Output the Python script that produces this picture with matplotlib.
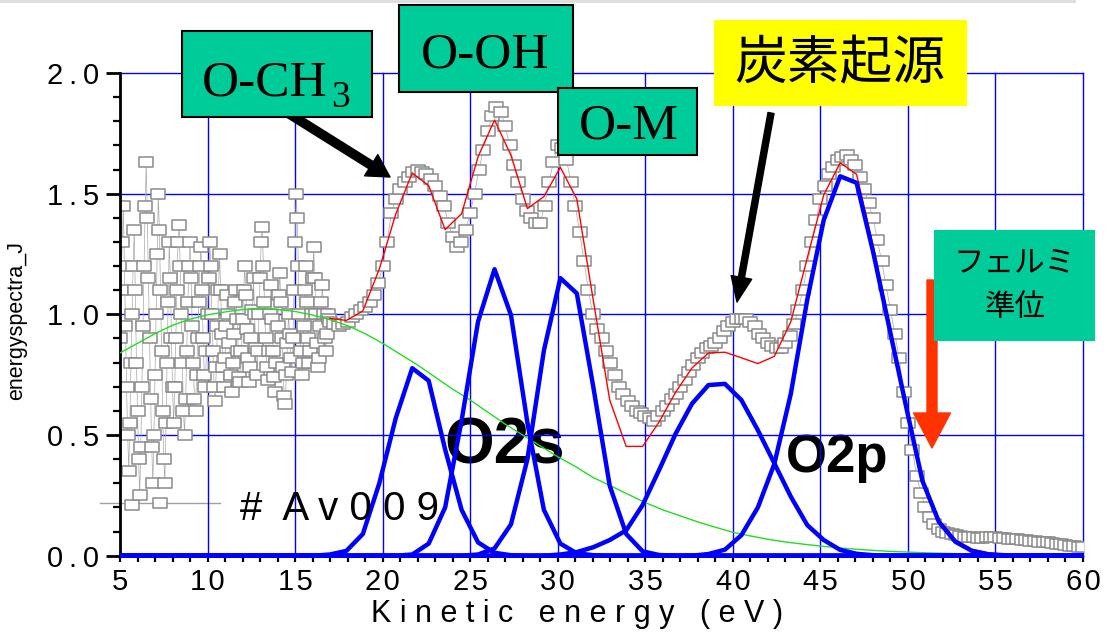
import matplotlib
matplotlib.use('Agg')
import matplotlib.pyplot as plt
import numpy as np
from matplotlib.patches import Rectangle
from matplotlib.path import Path
from matplotlib.lines import Line2D
from matplotlib.ticker import MultipleLocator, FixedLocator, FixedFormatter

W, H = 1113, 632

# measured spectrum (gray squares): noisy low-energy part, then smooth part
noise_x = np.arange(5.0, 17.0, 0.0625)
noise_y = [0.90, 1.10, 1.30, 1.45, 1.20, 0.95, 0.70, 0.50, 0.35, 0.55, 0.80, 1.00, 1.20, 1.35, 1.10, 0.80,
           0.60, 0.40, 0.25, 0.45, 0.70, 0.95, 1.20, 1.45, 1.63, 1.40, 1.15, 0.90, 0.65, 0.45, 0.30, 0.50,
           0.75, 1.00, 1.25, 1.50, 1.35, 1.10, 0.85, 0.60, 0.40, 0.30, 0.55, 0.80, 1.05, 1.30, 1.15, 0.90,
           0.70, 0.55, 0.70, 0.90, 1.10, 1.30, 1.37, 1.20, 1.00, 0.80, 0.60, 0.50, 0.65, 0.85, 1.05, 1.20,
           1.30, 1.15, 0.95, 0.80, 0.65, 0.60, 0.75, 0.90, 1.05, 1.20, 1.28, 1.10, 0.90, 0.75, 0.70, 0.85,
           1.00, 1.15, 1.30, 1.20, 1.00, 0.85, 0.70, 0.64, 0.78, 0.95, 1.10, 1.25, 1.10, 0.92, 0.78, 0.70,
           0.82, 0.95, 1.08, 1.00, 0.88, 0.75, 0.68, 0.80, 0.92, 1.05, 1.10, 0.98, 0.85, 0.74, 0.72, 0.85,
           0.98, 1.10, 1.20, 1.08, 0.94, 0.82, 0.72, 0.78, 0.90, 1.02, 1.15, 1.00, 0.86, 0.75, 0.85, 1.00,
           1.15, 1.30, 1.36, 1.20, 1.05, 0.90, 0.78, 0.73, 0.85, 1.00, 1.12, 0.98, 0.85, 0.74, 0.68, 0.80,
           0.95, 1.08, 1.17, 1.05, 0.90, 0.78, 0.66, 0.63, 0.75, 0.88, 1.00, 0.92, 0.82, 0.76, 0.90, 1.10,
           1.30, 1.50, 1.40, 1.20, 1.00, 0.85, 0.75, 0.80, 0.95, 1.10, 1.20, 1.05, 0.90, 0.80, 0.85, 1.00,
           1.15, 1.28, 1.15, 1.00, 0.88, 0.78, 0.82, 0.95, 1.05, 1.12, 1.00, 0.90, 0.85, 0.92, 1.00, 0.98]
smooth_x = np.arange(17.0, 60.01, 0.25)
smooth_y = [0.97, 0.96, 0.95, 0.96, 0.97, 0.99, 1.00, 1.02, 1.03, 1.05, 1.08, 1.13,
            1.20, 1.30, 1.42, 1.48, 1.52, 1.55, 1.57, 1.59, 1.60, 1.59, 1.58, 1.56,
            1.53, 1.49, 1.45, 1.38, 1.32, 1.28, 1.30, 1.35, 1.42, 1.50, 1.60, 1.68,
            1.76, 1.82, 1.86, 1.84, 1.78, 1.70, 1.62, 1.55, 1.48, 1.43, 1.40, 1.38,
            1.38, 1.45, 1.55, 1.63, 1.70, 1.69, 1.64, 1.55, 1.45, 1.34, 1.22, 1.10,
            1.00, 0.94, 0.90, 0.85, 0.80, 0.75, 0.70, 0.67, 0.64, 0.62, 0.60, 0.59,
            0.58, 0.57, 0.56, 0.58, 0.60, 0.62, 0.65, 0.67, 0.70, 0.73, 0.76, 0.79,
            0.82, 0.84, 0.86, 0.87, 0.88, 0.90, 0.93, 0.95, 0.97, 0.98, 0.98, 0.98,
            0.97, 0.95, 0.92, 0.90, 0.88, 0.87, 0.86, 0.86, 0.88, 0.91, 0.96, 1.02,
            1.10, 1.20, 1.30, 1.39, 1.48, 1.53, 1.58, 1.61, 1.64, 1.65, 1.66, 1.64,
            1.62, 1.57, 1.52, 1.46, 1.40, 1.31, 1.22, 1.12, 1.02, 0.92, 0.82, 0.68,
            0.55, 0.44, 0.33, 0.26, 0.20, 0.16, 0.13, 0.11, 0.10, 0.093, 0.088, 0.084,
            0.080, 0.079, 0.078, 0.076, 0.075, 0.075, 0.076, 0.077, 0.076, 0.074, 0.072, 0.071,
            0.070, 0.068, 0.065, 0.063, 0.062, 0.060, 0.058, 0.056, 0.055, 0.052, 0.050, 0.048,
            0.045, 0.042, 0.040, 0.037, 0.035]
data_x = np.concatenate([noise_x, smooth_x])
data_y = noise_y + smooth_y

# fit grid (components and total fit)
fit_x = np.arange(4.77, 60.5, 0.94)


def pad(start, vals):
    out = [0.0] * len(fit_x)
    out[start:start + len(vals)] = vals
    return out


comp1 = pad(13, [0.005, 0.02, 0.09, 0.30, 0.57, 0.777, 0.725, 0.44, 0.19, 0.055, 0.012, 0.002])
comp2 = pad(18, [0.005, 0.05, 0.20, 0.56, 0.97, 1.187, 0.997, 0.55, 0.19, 0.05, 0.01, 0.002])
comp3 = pad(22, [0.005, 0.03, 0.13, 0.40, 0.85, 1.15, 1.087, 0.70, 0.29, 0.09, 0.018, 0.003])
comp4 = pad(27, [0.005, 0.015, 0.035, 0.065, 0.105, 0.21, 0.355, 0.505, 0.63, 0.707,
                 0.712, 0.645, 0.52, 0.383, 0.245, 0.127, 0.065, 0.024, 0.008, 0.002])
comp5 = pad(36, [0.007, 0.025, 0.085, 0.20, 0.38, 0.67, 1.06, 1.39, 1.572, 1.545,
                 1.26, 0.94, 0.62, 0.31, 0.14, 0.058, 0.02, 0.006, 0.002])
components = [comp1, comp2, comp3, comp4, comp5]

fit_total = [0.983, 0.975, 1.014, 1.188, 1.416, 1.586, 1.533, 1.351, 1.417, 1.653,
             1.805, 1.659, 1.438, 1.488, 1.609, 1.478, 1.059, 0.645, 0.453, 0.453,
             0.554, 0.677, 0.778, 0.840, 0.843, 0.820, 0.796, 0.826, 0.969, 1.233,
             1.494, 1.628, 1.580, 1.284, 0.958, 0.635, 0.322, 0.150, 0.066, 0.027,
             0.012, 0.006, 0.005, 0.004, 0.004, 0.003, 0.003]
fit_total_x = fit_x[13:13 + len(fit_total)]

# background
bg_x = np.arange(5, 61, 1)
bg_y = [0.84, 0.88, 0.92, 0.955, 0.98, 0.998, 1.01, 1.02, 1.022, 1.02, 1.012, 0.997,
        0.978, 0.953, 0.92, 0.88, 0.835, 0.79, 0.74, 0.69, 0.645, 0.595, 0.545, 0.50,
        0.455, 0.41, 0.37, 0.325, 0.29, 0.255, 0.22, 0.19, 0.165, 0.14, 0.118, 0.097,
        0.082, 0.068, 0.057, 0.048, 0.04, 0.033, 0.027, 0.022, 0.018, 0.015, 0.012, 0.01,
        0.008, 0.007, 0.006, 0.005, 0.004, 0.004, 0.003, 0.003]

x_ticks = [5, 10, 15, 20, 25, 30, 35, 40, 45, 50, 55, 60]
y_ticks = [0.0, 0.5, 1.0, 1.5, 2.0]
x_labels = ['\u200a'.join(str(v)) for v in x_ticks]
y_labels = ['\u2009'.join(f'{v:.1f}') for v in y_ticks]

sans = ['Liberation Sans', 'DejaVu Sans']
serif = ['Liberation Serif', 'DejaVu Serif']
cjk = ['Noto Sans CJK JP', 'DejaVu Sans']


def fx(px):
    return px / W


def fy(py):
    return 1 - py / H


fig = plt.figure(figsize=(W / 100, H / 100), dpi=100)
ax = fig.add_axes([fx(120), fy(555.7), (1083 - 120) / W, (555.7 - 73) / H])
ax.set_xlim(5, 60)
ax.set_ylim(0, 2.0)

ax.xaxis.set_major_locator(FixedLocator(x_ticks))
ax.xaxis.set_major_formatter(FixedFormatter(x_labels))
ax.xaxis.set_minor_locator(MultipleLocator(1))
ax.yaxis.set_major_locator(FixedLocator(y_ticks))
ax.yaxis.set_major_formatter(FixedFormatter(y_labels))
ax.yaxis.set_minor_locator(MultipleLocator(0.1))

ax.grid(True, which='major', color='#0000ff', lw=1.0, zorder=0)
ax.set_axisbelow(True)
for gl in ax.get_xgridlines() + ax.get_ygridlines():
    gl.set_clip_on(False)

for s in ['top', 'right', 'bottom']:
    ax.spines[s].set_visible(False)
ax.spines['left'].set_linewidth(2)
ax.spines['left'].set_color('black')

ax.tick_params(axis='y', which='major', length=10, width=2, pad=5, labelsize=21)
ax.tick_params(axis='y', which='minor', length=5, width=1.6)
ax.tick_params(axis='x', which='both', length=4.5, width=1.6, pad=4, labelsize=21)
for lab in ax.get_xticklabels() + ax.get_yticklabels():
    lab.set_family(sans)

# O2s / O2p labels sit under the curves
fig.text(fx(505), fy(447), 'O2s', ha='center', va='center', fontsize=46,
         fontweight='bold', family=sans, zorder=1)
fig.text(fx(837), fy(458), 'O2p', ha='center', va='center', fontsize=38,
         fontweight='bold', family=sans, zorder=1)
ax.set_zorder(2)
ax.patch.set_alpha(0)

sq = Path([(-1, -0.72), (1, -0.72), (1, 0.72), (-1, 0.72), (-1, -0.72)],
          [Path.MOVETO, Path.LINETO, Path.LINETO, Path.LINETO, Path.CLOSEPOLY])

ax.plot(data_x, data_y, color='#a8a8a8', lw=0.5, marker=sq, ms=10,
        mfc='white', mec='#8a8a8a', mew=1.1, zorder=2)
ax.plot(bg_x, bg_y, color='#22dd22', lw=1.0, zorder=3)
ax.plot(fit_total_x, fit_total, color='#ff0000', lw=1.0, zorder=3.5)
clip = Rectangle((0, -0.02), 1, 1.04, transform=ax.transAxes, visible=False)
ax.add_patch(clip)
for comp in components:
    ln, = ax.plot(fit_x, comp, color='#0000ff', lw=3.2, zorder=4)
    ln.set_clip_path(clip)

# legend
fig.add_artist(Line2D([fx(100), fx(220)], [fy(503), fy(503)], color='#a0a0a0', lw=1.0))
fig.add_artist(Line2D([fx(132), fx(160)], [fy(505), fy(503)], ls='none', marker=sq, ms=10,
                      mfc='white', mec='#8a8a8a', mew=1.1))
fig.text(fx(240), fy(520), '#  A v 0 0 9', ha='left', va='baseline', fontsize=29, family=sans)

# axis labels
fig.text(fx(577), fy(622), 'K i n e t i c   e n e r g y   ( e V )', ha='center', va='baseline',
         fontsize=22, family=sans)
fig.text(fx(17), fy(320), 'energyspectra_J', ha='center', va='center', rotation=90,
         fontsize=15.5, family=sans)

# top border line
fig.add_artist(Line2D([0, fx(1074)], [fy(1), fy(1)], color='#dddddd', lw=2))

# annotation boxes
teal = '#00cc99'


def box(x0, y0, x1, y1, color, edge=None):
    r = Rectangle((fx(x0), fy(y1)), fx(x1) - fx(x0), fy(y0) - fy(y1), transform=fig.transFigure,
                  facecolor=color, edgecolor=edge if edge else color, lw=1.5, zorder=10)
    fig.add_artist(r)


box(182, 31, 372, 117, teal, 'black')
box(399, 5, 573, 92, teal, 'black')
box(558, 88, 697, 155, teal, 'black')
box(715, 21, 966, 105, '#ffff00')
box(935, 231, 1094, 340, teal)

fig.text(fx(202), fy(96), 'O-CH', ha='left', va='baseline', fontsize=37, family=serif, zorder=11)
fig.text(fx(331), fy(107), '3', ha='left', va='baseline', fontsize=27, family=serif, zorder=11)
fig.text(fx(485), fy(67), 'O-OH', ha='center', va='baseline', fontsize=37, family=serif, zorder=11)
fig.text(fx(629), fy(138), 'O-M', ha='center', va='baseline', fontsize=37, family=serif, zorder=11)
fig.text(fx(840), fy(64), '炭素起源', ha='center', va='center', fontsize=38, family=cjk, zorder=11)
fig.text(fx(1015), fy(263), 'フェルミ', ha='center', va='center', fontsize=22, family=cjk, zorder=11)
fig.text(fx(1015), fy(308), '準位', ha='center', va='center', fontsize=22, family=cjk, zorder=11)

# arrows
ax.annotate('', xy=(390, H - 177), xytext=(283, H - 110), xycoords='figure pixels',
            textcoords='figure pixels', annotation_clip=False, zorder=12,
            arrowprops=dict(arrowstyle='simple,head_length=0.8,head_width=0.9,tail_width=0.3',
                            color='black', mutation_scale=20, shrinkA=0, shrinkB=0))
ax.annotate('', xy=(737, H - 302), xytext=(771, H - 113), xycoords='figure pixels',
            textcoords='figure pixels', annotation_clip=False, zorder=12,
            arrowprops=dict(arrowstyle='simple,head_length=0.9,head_width=0.75,tail_width=0.22',
                            color='black', mutation_scale=20, shrinkA=0, shrinkB=0))
ax.annotate('', xy=(932, H - 448), xytext=(932, H - 280), xycoords='figure pixels',
            textcoords='figure pixels', annotation_clip=False, zorder=12,
            arrowprops=dict(arrowstyle='simple,head_length=1.26,head_width=1.33,tail_width=0.36',
                            color='#ff3300', mutation_scale=20, shrinkA=0, shrinkB=0))

fig.savefig('out.png', dpi=100)
